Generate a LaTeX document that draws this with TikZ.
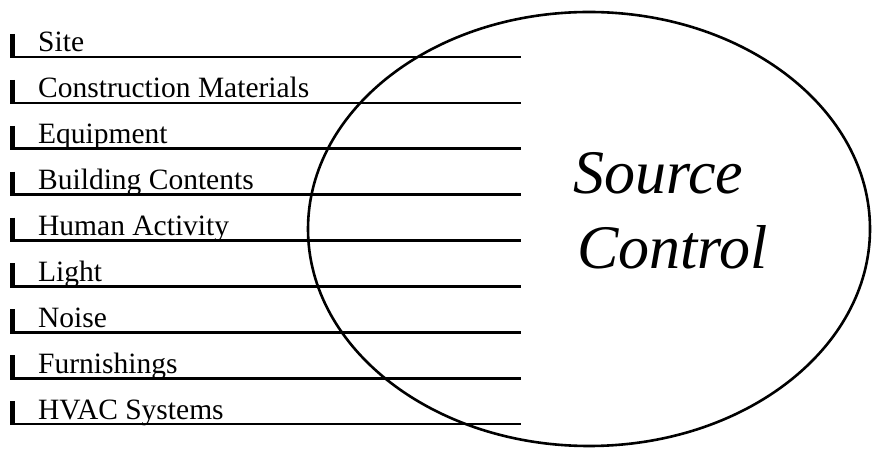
\documentclass[tikz,border=0pt]{standalone}
\usepackage{fontspec}
\setmainfont{Liberation Serif}
\usetikzlibrary{shapes.geometric}

\begin{document}
\begin{tikzpicture}[x=1pt, y=1pt,
    item/.style={anchor=base west, inner sep=0pt, font=\fontsize{29.5}{31}\selectfont},
    rule/.style={line width=2.6pt},
    tickmark/.style={line width=4.5pt},
    bubble/.style={ellipse, draw, line width=2.6pt, inner sep=0pt,
                   minimum width=562pt, minimum height=434pt},
    title/.style={align=left, anchor=north west, inner sep=0pt,
                  font=\fontsize{62}{77}\selectfont\itshape}]

\useasboundingbox (0,0) rectangle (880,449);

% Source list on the left
\foreach \lab [count=\i] in {Site, Construction Materials, Equipment,
    Building Contents, Human Activity, Light, Noise, Furnishings, HVAC Systems} {
  \coordinate (tick\i) at (12.5, 392 - 45.9*\i + 45.9 + 23);
  \coordinate (foot\i) at (12.5, 392 - 45.9*\i + 45.9);
  \coordinate (end\i) at (521, 392 - 45.9*\i + 45.9);
  \node[item] (lab\i) at (38, 397 - 45.9*\i + 45.9) {\lab};
  \draw[tickmark] (tick\i) -- ([yshift=-1.3pt]foot\i);
  \draw[rule] (foot\i) -- (end\i);
}

% The big ellipse
\node[bubble] (ctrl) at (589, 220) {};

% Its title
\node[title] (ctrltxt) at (573, 449 - 152) {Source\\[-2pt]\hspace*{4pt}Control};

\end{tikzpicture}
\end{document}
